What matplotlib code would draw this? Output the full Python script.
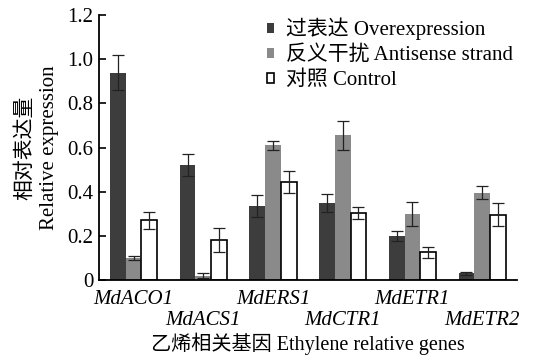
import numpy as np
import matplotlib.pyplot as plt
from matplotlib.ticker import FixedLocator, FixedFormatter

plt.rcParams['font.family'] = ['Liberation Serif', 'Noto Sans CJK SC']

genes = ['MdACO1', 'MdACS1', 'MdERS1', 'MdCTR1', 'MdETR1', 'MdETR2']
series = ['过表达 Overexpression', '反义干扰 Antisense strand', '对照 Control']

over = [0.94, 0.52, 0.335, 0.35, 0.20, 0.03]
over_err = [0.08, 0.05, 0.05, 0.04, 0.022, 0.005]
anti = [0.10, 0.02, 0.61, 0.655, 0.30, 0.395]
anti_err = [0.01, 0.012, 0.02, 0.065, 0.055, 0.03]
ctrl = [0.27, 0.18, 0.445, 0.305, 0.125, 0.297]
ctrl_err = [0.04, 0.055, 0.05, 0.028, 0.027, 0.05]

yticks = [0, 0.2, 0.4, 0.6, 0.8, 1.0, 1.2]
ytick_labels = ['0', '0.2', '0.4', '0.6', '0.8', '1.0', '1.2']

fig = plt.figure(figsize=(5.34, 3.6), dpi=100)
ax = fig.add_axes([0.185, 0.222, 0.783, 0.736])

x = np.arange(len(genes))
w = 0.225
ekw = dict(ecolor='#222222', elinewidth=0.9, capsize=4.5, capthick=0.9)
ax.bar(x - w, over, w, yerr=over_err, color='#3d3d3d', label=series[0], error_kw=ekw)
ax.bar(x, anti, w, yerr=anti_err, color='#8a8a8a', label=series[1], error_kw=ekw)
ax.bar(x + w, ctrl, w, yerr=ctrl_err, color='white', edgecolor='black',
       linewidth=1.2, label=series[2], error_kw=ekw)

ax.set_xlim(-0.5, 5.5)
ax.set_ylim(0, 1.2)
ax.yaxis.set_major_locator(FixedLocator(yticks))
ax.yaxis.set_major_formatter(FixedFormatter(ytick_labels))
ax.tick_params(axis='y', direction='in', length=5, width=1.2, labelsize=15, pad=4)
ax.tick_params(axis='x', length=0, pad=3)
ax.set_xticks(x)
ax.set_xticklabels([])
# gene names alternate between two rows
for i, g in enumerate(genes):
    ax.text(i, -0.045 if i % 2 == 0 else -0.14, g, transform=ax.transData,
            ha='center', va='top', fontsize=15, style='italic')

for s in ['top', 'right']:
    ax.spines[s].set_visible(False)
ax.spines['left'].set_linewidth(1.3)
ax.spines['bottom'].set_linewidth(1.3)

ax.set_xlabel('乙烯相关基因 Ethylene relative genes', fontsize=14.5, labelpad=35)
ax.set_ylabel('相对表达量\nRelative expression', fontsize=15, labelpad=6,
              linespacing=1.35)

ax.legend(loc='upper left', bbox_to_anchor=(0.402, 0.99), frameon=False,
          fontsize=15, handlelength=0.34, handleheight=0.34, handletextpad=0.6,
          labelspacing=0.26, borderaxespad=0.0, borderpad=0.0)

fig.savefig('out.png', dpi=100)
